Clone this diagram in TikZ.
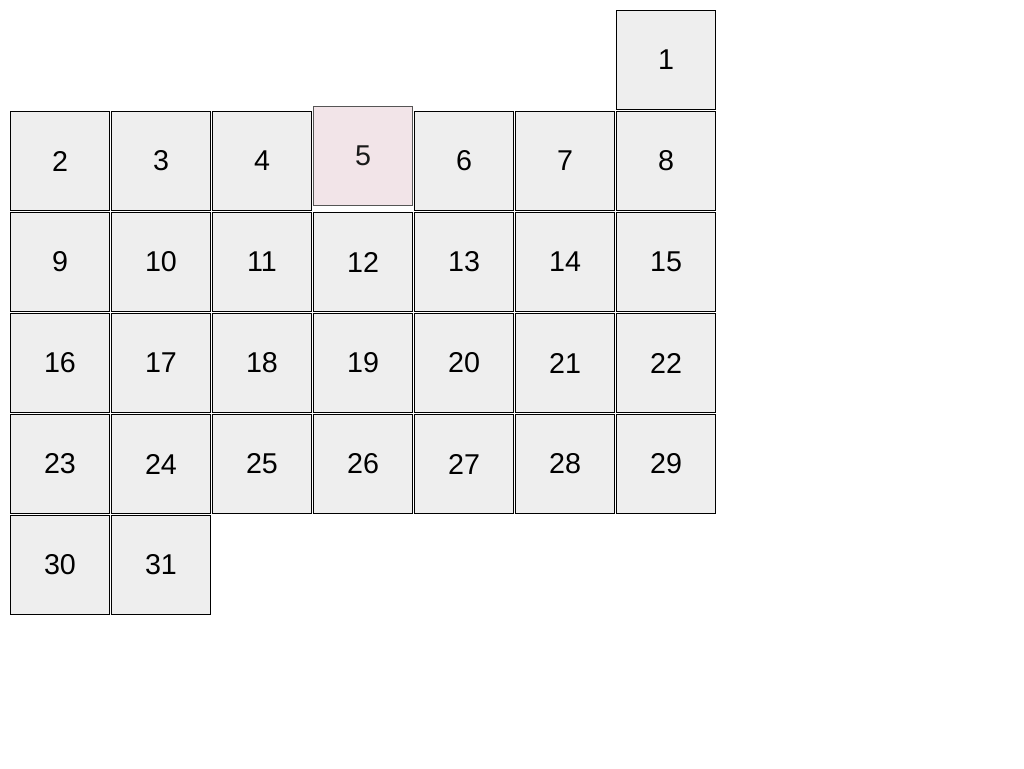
\documentclass[tikz,border=0pt]{standalone}
\usepackage{fontspec}
\setmainfont{Liberation Sans}
\usetikzlibrary{positioning}

\definecolor{cellgray}{HTML}{EEEEEE}
\definecolor{todaypink}{HTML}{F2E4E8}
\definecolor{todayline}{HTML}{555555}

\tikzset{
  day/.style={draw=black, fill=cellgray, line width=0.75pt, minimum size=74.25pt,
    inner sep=0pt, font=\fontsize{21.5}{25}\selectfont},
  today/.style={day, draw=todayline, fill=todaypink, text=black!90}
}

\begin{document}
\begin{tikzpicture}[x=0.75pt, y=-0.75pt]
 \useasboundingbox (0,0) rectangle (1024,768);
 % first week
 \node [day] (d1) at (666,60) {1};
 % second week
 \node [day] (d2) at (60,161) {2};
 \node [day] (d3) at (161,161) {3};
 \node [day] (d4) at (262,161) {4};
 \node [today] (d5) at (363,156) {5};
 \node [day] (d6) at (464,161) {6};
 \node [day] (d7) at (565,161) {7};
 \node [day] (d8) at (666,161) {8};
 % third week
 \node [day] (d9) at (60,262) {9};
 \node [day] (d10) at (161,262) {10};
 \node [day] (d11) at (262,262) {11};
 \node [day] (d12) at (363,262) {12};
 \node [day] (d13) at (464,262) {13};
 \node [day] (d14) at (565,262) {14};
 \node [day] (d15) at (666,262) {15};
 % fourth week
 \node [day] (d16) at (60,363) {16};
 \node [day] (d17) at (161,363) {17};
 \node [day] (d18) at (262,363) {18};
 \node [day] (d19) at (363,363) {19};
 \node [day] (d20) at (464,363) {20};
 \node [day] (d21) at (565,363) {21};
 \node [day] (d22) at (666,363) {22};
 % fifth week
 \node [day] (d23) at (60,464) {23};
 \node [day] (d24) at (161,464) {24};
 \node [day] (d25) at (262,464) {25};
 \node [day] (d26) at (363,464) {26};
 \node [day] (d27) at (464,464) {27};
 \node [day] (d28) at (565,464) {28};
 \node [day] (d29) at (666,464) {29};
 % last days
 \node [day] (d30) at (60,565) {30};
 \node [day] (d31) at (161,565) {31};
\end{tikzpicture}
\end{document}
